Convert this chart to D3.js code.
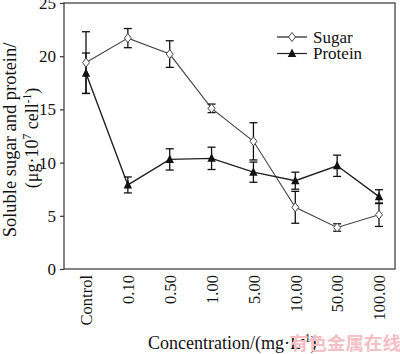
<!DOCTYPE html>
<html><head><meta charset="utf-8">
<script src="https://cdn.jsdelivr.net/npm/d3@7"></script>
<style>body{margin:0;background:#fff}svg{display:block}text{font-family:"Liberation Serif","Times New Roman",serif;fill:#111}</style>
</head><body><svg id="c" width="400" height="354"></svg>
<script>
const categories = ["Control","0.10","0.50","1.00","5.00","10.00","50.00","100.00"];
const sugar      = [19.4, 21.7, 20.2, 15.1, 12.0, 5.8, 3.9, 5.1];
const sugarErr   = [2.9, 0.9, 1.25, 0.4, 1.75, 1.5, 0.35, 1.1];
const protein    = [18.4, 7.9, 10.3, 10.4, 9.1, 8.3, 9.7, 6.8];
const proteinErr = [1.9, 0.75, 1.0, 1.05, 0.95, 0.8, 1.0, 0.65];
const yTicks = [0, 5, 10, 15, 20, 25];

const svg = d3.select("#c");
const L = 64, R = 395, T = 3, B = 269;
const x = d3.scalePoint().domain(categories).range([86, 379]);
const y = d3.scaleLinear().domain([0, 25]).range([B, T]);

// frame
svg.append("rect").attr("x", L).attr("y", T).attr("width", R - L).attr("height", B - T)
  .attr("fill", "none").attr("stroke", "#333").attr("stroke-width", 1.2);

// y axis
const ya = svg.append("g").attr("transform", `translate(${L},0)`)
  .call(d3.axisLeft(y).tickValues(yTicks).tickSize(4).tickPadding(4));
ya.select(".domain").remove();
ya.selectAll("line").attr("stroke", "#333").attr("stroke-width", 1.2);
ya.selectAll("text").attr("font-size", 17).attr("fill", "#111");

// x axis labels
const xa = svg.append("g").attr("transform", `translate(0,${B})`)
  .call(d3.axisBottom(x).tickSize(0).tickPadding(0));
xa.select(".domain").remove();
xa.selectAll("text").attr("font-size", 16.5).attr("fill", "#111")
  .attr("transform", "rotate(-90)").attr("text-anchor", "end")
  .attr("x", -6).attr("y", 0).attr("dy", "0.35em");

function series(vals, errs, color, width) {
  const pts = vals.map((v, i) => ({c: categories[i], v, e: errs[i]}));
  svg.append("path").datum(pts)
    .attr("d", d3.line().x(d => x(d.c)).y(d => y(d.v)))
    .attr("fill", "none").attr("stroke", color).attr("stroke-width", width);
  const g = svg.append("g").attr("stroke", "#111").attr("stroke-width", 1.3);
  pts.forEach(d => {
    const cx = x(d.c);
    g.append("line").attr("x1", cx).attr("x2", cx).attr("y1", y(d.v + d.e)).attr("y2", y(d.v - d.e));
    g.append("line").attr("x1", cx - 4).attr("x2", cx + 4).attr("y1", y(d.v + d.e)).attr("y2", y(d.v + d.e));
    g.append("line").attr("x1", cx - 4).attr("x2", cx + 4).attr("y1", y(d.v - d.e)).attr("y2", y(d.v - d.e));
  });
  return pts;
}
const sp = series(sugar, sugarErr, "#444", 1.1);
const pp = series(protein, proteinErr, "#222", 1.4);

const diamond = "M0,-4.5L3.5,0L0,4.5L-3.5,0Z";
const tri = "M0,-5L4.2,3.5L-4.2,3.5Z";
svg.append("g").selectAll("path").data(sp).join("path")
  .attr("d", diamond).attr("transform", d => `translate(${x(d.c)},${y(d.v)})`)
  .attr("fill", "#fff").attr("stroke", "#444").attr("stroke-width", 1);
svg.append("g").selectAll("path").data(pp).join("path")
  .attr("d", tri).attr("transform", d => `translate(${x(d.c)},${y(d.v)})`)
  .attr("fill", "#111");

// legend
const lg = [{t: "Sugar", y: 37, m: diamond, f: "#fff", s: "#444"}, {t: "Protein", y: 53.5, m: tri, f: "#111", s: "none"}];
lg.forEach(d => {
  svg.append("line").attr("x1", 277).attr("x2", 307).attr("y1", d.y).attr("y2", d.y)
    .attr("stroke", "#222").attr("stroke-width", 1.2);
  svg.append("path").attr("d", d.m).attr("transform", `translate(292,${d.y})`)
    .attr("fill", d.f).attr("stroke", d.s);
  svg.append("text").attr("x", 313).attr("y", d.y).attr("dy", "0.35em").attr("font-size", 17).text(d.t);
});

// axis titles
const xt = svg.append("text").attr("x", 148).attr("y", 349).attr("font-size", 18);
xt.append("tspan").text("Concentration/(mg·L");
xt.append("tspan").attr("font-size", 11.5).attr("dy", -7).text("-1");
xt.append("tspan").attr("dy", 7).text(")");

const yt = svg.append("text").attr("transform", "translate(0,140) rotate(-90)").attr("text-anchor", "middle").attr("font-size", 18.5);
yt.append("tspan").attr("x", 0).attr("y", 16).text("Soluble sugar and protein/");
const l2 = svg.append("text").attr("transform", "translate(0,138) rotate(-90)").attr("text-anchor", "middle").attr("font-size", 18);
l2.append("tspan").attr("y", 38).text("(μg·10");
l2.append("tspan").attr("font-size", 11.5).attr("dy", -7).text("7");
l2.append("tspan").attr("dy", 7).text(" cell");
l2.append("tspan").attr("font-size", 11.5).attr("dy", -7).text("-1");
l2.append("tspan").attr("dy", 7).text(")");

// watermark
svg.append("text").attr("x", 290).attr("y", 350).attr("font-size", 18.5)
  .style("font-family", "'Noto Sans CJK SC'").style("font-weight", "bold")
  .style("fill", "#f4c0c4").text("有色金属在线");
</script></body></html>
